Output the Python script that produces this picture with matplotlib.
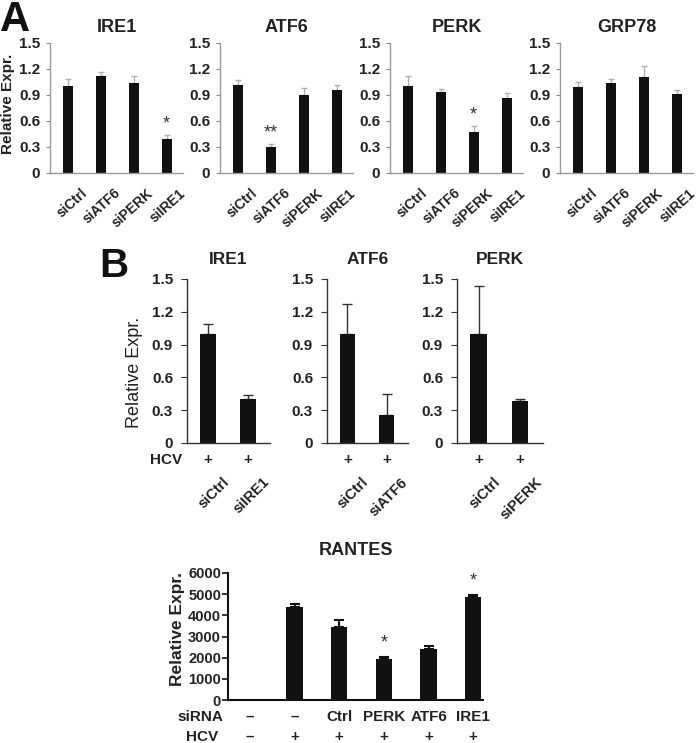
import matplotlib
matplotlib.use("Agg")
import matplotlib.pyplot as plt
import matplotlib.transforms as mtransforms
import numpy as np

plt.rcParams['font.family'] = ['Liberation Sans', 'DejaVu Sans']
plt.rcParams['font.weight'] = 'bold'

# ---------------- data ----------------
a_titles = ["IRE1", "ATF6", "PERK", "GRP78"]
a_labels = ["siCtrl", "siATF6", "siPERK", "siIRE1"]
a_values = [[1.00, 1.12, 1.04, 0.39],
            [1.01, 0.30, 0.90, 0.96],
            [1.00, 0.93, 0.47, 0.87],
            [0.99, 1.04, 1.11, 0.91]]
a_errors = [[0.09, 0.04, 0.08, 0.05],
            [0.06, 0.03, 0.08, 0.05],
            [0.12, 0.04, 0.07, 0.05],
            [0.06, 0.04, 0.12, 0.05]]
a_stars = [["", "", "", "*"],
           ["", "**", "", ""],
           ["", "", "*", ""],
           ["", "", "", ""]]
a_yticks = [0, 0.3, 0.6, 0.9, 1.2, 1.5]
a_yticklabels = ["0", "0.3", "0.6", "0.9", "1.2", "1.5"]

b_titles = ["IRE1", "ATF6", "PERK"]
b_labels = [["siCtrl", "siIRE1"], ["siCtrl", "siATF6"], ["siCtrl", "siPERK"]]
b_values = [[1.00, 0.40], [1.00, 0.26], [1.00, 0.38]]
b_errors = [[0.09, 0.04], [0.27, 0.19], [0.44, 0.02]]
b_hcv = ["+", "+"]

r_title = "RANTES"
r_values = [10, 4380, 3450, 1920, 2430, 4880]
r_errors = [0, 170, 350, 100, 130, 70]
r_stars = ["", "", "", "*", "", "*"]
r_sirna = ["\u2013", "\u2013", "Ctrl", "PERK", "ATF6", "IRE1"]
r_hcv = ["\u2013", "+", "+", "+", "+", "+"]
r_yticks = [0, 1000, 2000, 3000, 4000, 5000, 6000]

W, H = 700, 743
fig = plt.figure(figsize=(7, 7.43), dpi=100)


def px_axes(x0, x1, ytop, ybot):
    return fig.add_axes([x0 / W, 1 - ybot / H, (x1 - x0) / W, (ybot - ytop) / H])


TXT = '#222222'

# ---------------- Panel A ----------------
a_left = [50, 220, 390, 560]
for k in range(4):
    ax = px_axes(a_left[k], a_left[k] + 133, 43, 173)
    x = np.arange(4)
    v = np.array(a_values[k]); e = np.array(a_errors[k])
    ax.bar(x, v, width=0.3, color='#111111', zorder=2)
    ax.errorbar(x, v, yerr=[np.zeros(4), e], fmt='none', ecolor='#b0b0b0',
                elinewidth=1, capsize=2.5, capthick=1, zorder=1)
    for i in range(4):
        if a_stars[k][i]:
            ax.text(x[i], v[i] + e[i] + 0.03, a_stars[k][i], ha='center', va='bottom',
                    fontsize=13, fontweight='normal', color='#333333')
    ax.set_xlim(-0.55, 3.5)
    ax.set_ylim(0, 1.5)
    ax.set_yticks(a_yticks)
    ax.set_yticklabels(a_yticklabels, fontsize=11, color=TXT)
    ax.set_xticks(x)
    ax.set_xticklabels([])
    bt = mtransforms.blended_transform_factory(ax.transData, ax.transAxes)
    for i, lab in enumerate(a_labels):
        ax.text(x[i] + 0.38, -0.1, lab, transform=bt,
                rotation=42, ha='right', va='top', rotation_mode='anchor', fontsize=10, color=TXT)
    ax.tick_params(axis='x', length=0)
    ax.tick_params(axis='y', length=3, color='#888888', pad=4)
    for s in ['top', 'right']:
        ax.spines[s].set_visible(False)
    for s in ['left', 'bottom']:
        ax.spines[s].set_color('#999999')
        ax.spines[s].set_linewidth(1)
    ax.set_title(a_titles[k], fontsize=13, fontweight='bold', color=TXT, pad=8)
    if k == 0:
        ax.set_ylabel("Relative Expr.", fontsize=11, fontweight='bold', color=TXT)
        ax.yaxis.set_label_coords(-0.26, 0.53)

fig.text(0 / W, 1 - 31 / H, "A", fontsize=30, fontweight='bold', ha='left', va='baseline', color='#111111')

# ---------------- Panel B ----------------
b_axes_px = [(187, 270), (327, 408), (457, 543)]
for k in range(3):
    x0, x1 = b_axes_px[k]
    ax = px_axes(x0, x1, 279, 443)
    x = np.arange(2)
    v = np.array(b_values[k]); e = np.array(b_errors[k])
    ax.bar(x, v, width=0.4, color='#111111', zorder=2)
    ax.errorbar(x, v, yerr=[np.zeros(2), e], fmt='none', ecolor='#333333',
                elinewidth=1, capsize=3.5, capthick=1, zorder=1)
    ax.set_xlim(-0.525, 1.55)
    ax.set_ylim(0, 1.5)
    ax.set_yticks(a_yticks)
    ax.set_yticklabels(a_yticklabels, fontsize=11, color=TXT)
    ax.set_xticks([])
    ax.tick_params(axis='y', length=4, color='#333333', pad=6)
    for s in ['top', 'right']:
        ax.spines[s].set_visible(False)
    for s in ['left', 'bottom']:
        ax.spines[s].set_color('#333333')
        ax.spines[s].set_linewidth(1)
    ax.set_title(b_titles[k], fontsize=12.5, fontweight='bold', color=TXT, pad=11)
    bt = mtransforms.blended_transform_factory(ax.transData, ax.transAxes)
    for i in range(2):
        ax.text(x[i], -0.105, b_hcv[i], transform=bt, ha='center', va='center',
                fontsize=11, color=TXT)
        ax.text(x[i] + 0.35, -0.195, b_labels[k][i], transform=bt, rotation=45,
                ha='right', va='top', rotation_mode='anchor', fontsize=10.5, color=TXT)
    if k == 0:
        ax.set_ylabel("Relative Expr.", fontsize=13, fontweight='normal', color=TXT)
        ax.yaxis.set_label_coords(-0.53, 0.43)
        ax.text(-0.06, -0.105, "HCV", transform=ax.transAxes, ha='right', va='center',
                fontsize=11, color=TXT)

fig.text(99 / W, 1 - 277 / H, "B", fontsize=29, fontweight='bold', ha='left', va='baseline', color='#111111')

# ---------------- RANTES ----------------
ax = px_axes(228, 483, 573, 700)
x = np.arange(6)
v = np.array(r_values); e = np.array(r_errors)
ax.bar(x, v, width=0.37, color='#111111', zorder=2)
ax.errorbar(x[1:], v[1:], yerr=[np.zeros(5), e[1:]], fmt='none', ecolor='#111111',
            elinewidth=1.5, capsize=3.5, capthick=1.5, zorder=1)
for i in range(6):
    if r_stars[i]:
        ax.text(x[i], v[i] + e[i] + 250, r_stars[i], ha='center', va='bottom',
                fontsize=13, fontweight='normal', color='#333333')
ax.set_xlim(-0.49, 5.22)
ax.set_ylim(0, 6000)
ax.set_yticks(r_yticks)
ax.set_yticklabels([str(t) for t in r_yticks], fontsize=10.5, color=TXT)
ax.set_xticks([])
ax.tick_params(axis='y', length=4, width=1.2, color='#111111', pad=1)
for s in ['top', 'right']:
    ax.spines[s].set_visible(False)
for s in ['left', 'bottom']:
    ax.spines[s].set_color('#111111')
    ax.spines[s].set_linewidth(1.5)
ax.set_title(r_title, fontsize=13, fontweight='bold', color=TXT, pad=13)
ax.set_ylabel("Relative Expr.", fontsize=12.5, fontweight='bold', color=TXT)
ax.yaxis.set_label_coords(-0.17, 0.56)
rt = mtransforms.blended_transform_factory(ax.transData, ax.transAxes)
for i in range(6):
    ax.text(x[i], -0.134, r_sirna[i], transform=rt, ha='center', va='center', fontsize=11, color=TXT)
    ax.text(x[i], -0.29, r_hcv[i], transform=rt, ha='center', va='center', fontsize=11, color=TXT)
ax.text(-0.02, -0.134, "siRNA", transform=ax.transAxes, ha='right', va='center', fontsize=11, color=TXT)
ax.text(-0.04, -0.29, "HCV", transform=ax.transAxes, ha='right', va='center', fontsize=11, color=TXT)

fig.savefig("out.png", dpi=100, facecolor='white')
